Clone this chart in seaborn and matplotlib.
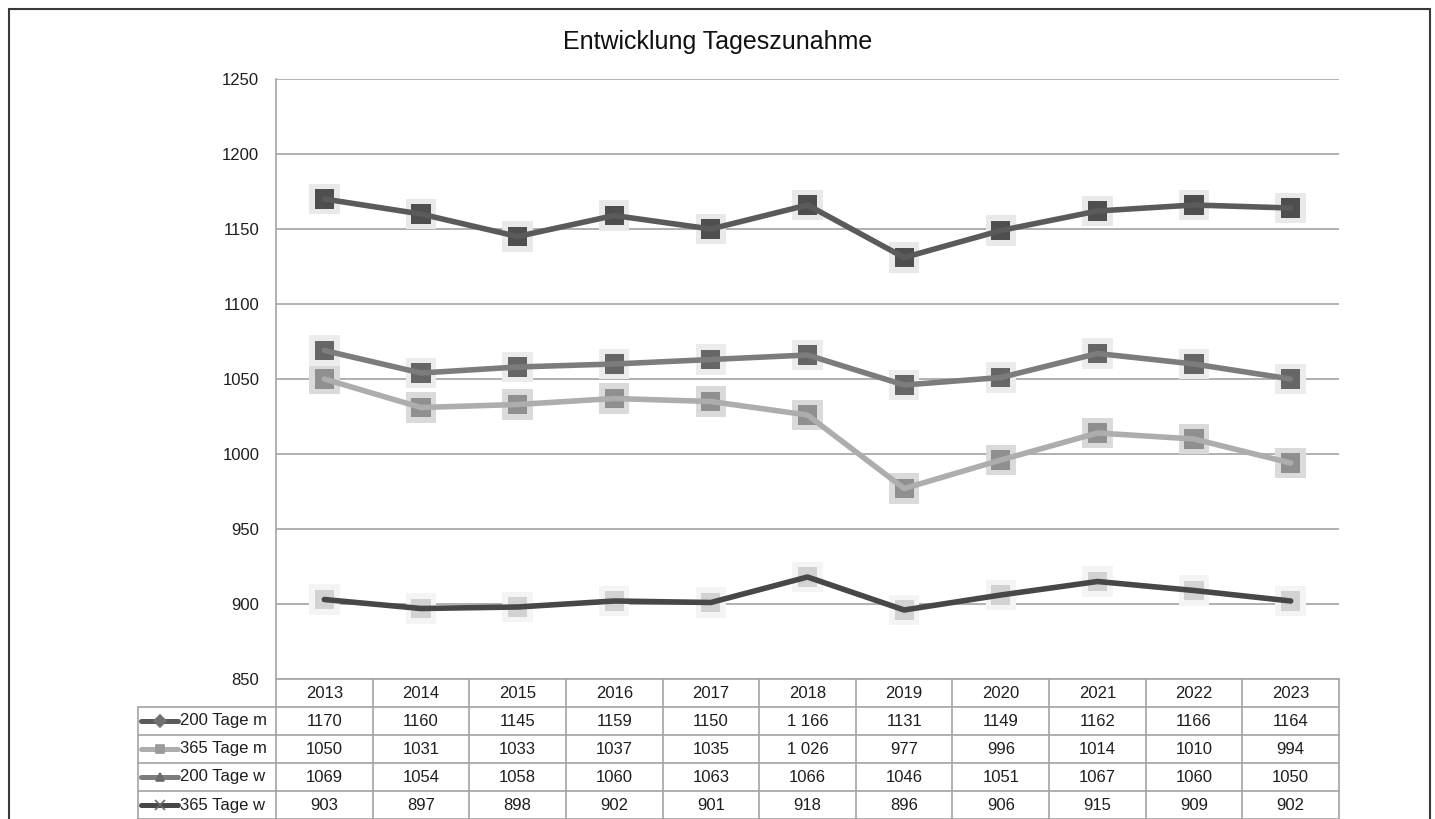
import numpy as np
import pandas as pd
import matplotlib
matplotlib.use("Agg")
import matplotlib.pyplot as plt
import matplotlib.transforms as mtransforms
from matplotlib.patches import Rectangle
from matplotlib.lines import Line2D
import seaborn as sns

# ---------------- data ----------------
years = ["2013", "2014", "2015", "2016", "2017", "2018", "2019", "2020", "2021", "2022", "2023"]
series_names = ["200 Tage m", "365 Tage m", "200 Tage w", "365 Tage w"]
tage200_m = [1170, 1160, 1145, 1159, 1150, 1166, 1131, 1149, 1162, 1166, 1164]
tage365_m = [1050, 1031, 1033, 1037, 1035, 1026, 977, 996, 1014, 1010, 994]
tage200_w = [1069, 1054, 1058, 1060, 1063, 1066, 1046, 1051, 1067, 1060, 1050]
tage365_w = [903, 897, 898, 902, 901, 918, 896, 906, 915, 909, 902]
y_ticks = [850, 900, 950, 1000, 1050, 1100, 1150, 1200, 1250]
# table cells shown with a thousands separator in the original
grouped_cells = [("200 Tage m", "2018"), ("365 Tage m", "2018")]

series_values = [tage200_m, tage365_m, tage200_w, tage365_w]

# ---------------- style ----------------
sns.set_style("white")
plt.rcParams["font.family"] = ["Liberation Sans", "DejaVu Sans"]

line_colors = ["#5a5a5a", "#adadad", "#7c7c7c", "#474747"]
marker_colors = ["#4e4e4e", "#8f8f8f", "#666666", "#d2d2d2"]
halo_colors = ["#e9e9e9", "#dadada", "#ececec", "#f4f4f4"]
legend_markers = ["D", "s", "^", "x"]
legend_mcolors = ["#707070", "#9a9a9a", "#6a6a6a", "#9a9a9a"]
grid_col = "#a3a3a3"
text_col = "#1e1e1e"
FS = 12

W, H = 1435, 819
fig = plt.figure(figsize=(W / 100, H / 100), dpi=100)
ax = fig.add_axes([276 / W, 1 - 679 / H, (1339 - 276) / W, (679 - 79) / H])

rows = []
for name, vals in zip(series_names, series_values):
    for i, (yr, v) in enumerate(zip(years, vals)):
        rows.append({"series": name, "pos": i, "year": yr, "value": v})
df = pd.DataFrame(rows)

for k, name in enumerate(series_names):
    sub = df[df["series"] == name]
    sns.scatterplot(data=sub, x="pos", y="value", marker="s", s=480,
                    color=halo_colors[k], edgecolor="none", linewidth=0,
                    ax=ax, zorder=3 + k * 0.1, legend=False)
    sns.scatterplot(data=sub, x="pos", y="value", marker="s", s=190,
                    color=marker_colors[k], edgecolor="none", linewidth=0,
                    ax=ax, zorder=4 + k * 0.1, legend=False)
    sns.lineplot(data=sub, x="pos", y="value", color=line_colors[k],
                 linewidth=4.0, ax=ax, zorder=5 + k * 0.1, legend=False,
                 solid_capstyle="round", solid_joinstyle="round")

ax.set_xlim(-0.5, len(years) - 0.5)
ax.set_ylim(y_ticks[0], y_ticks[-1])
ax.set_yticks(y_ticks)
ax.set_yticklabels([str(t) for t in y_ticks], fontsize=FS, color=text_col)
ax.set_xticks([])
ax.set_xlabel("")
ax.set_ylabel("")
ax.tick_params(axis="y", length=0, pad=12)
ax.yaxis.grid(True, color=grid_col, linewidth=1.2)
ax.set_axisbelow(True)
for sp in ["top", "right"]:
    ax.spines[sp].set_visible(False)
for sp in ["left", "bottom"]:
    ax.spines[sp].set_color(grid_col)
    ax.spines[sp].set_linewidth(1.2)

fig.text(0.5, 1 - 42 / H, "Entwicklung Tageszunahme", ha="center", va="center",
         fontsize=18, color="#111111")

# ---------------- data table ----------------
trans = mtransforms.blended_transform_factory(ax.transData, ax.transAxes)
axh_px = 679 - 79
rh = 28 / axh_px
n = len(years)
n_rows = len(series_names) + 1
lab_left = -138 / (1339 - 276)
tbl_kw = dict(color=grid_col, linewidth=1.2, clip_on=False, zorder=1)

for j in range(n + 1):
    ax.plot([j - 0.5, j - 0.5], [0, -n_rows * rh], transform=trans, **tbl_kw)
ax.plot([lab_left, lab_left], [-rh, -n_rows * rh], transform=ax.transAxes, **tbl_kw)
for r in range(1, n_rows + 1):
    ax.plot([lab_left, 1], [-r * rh, -r * rh], transform=ax.transAxes, **tbl_kw)

for j, yr in enumerate(years):
    ax.text(j, -0.5 * rh, yr, transform=trans, ha="center", va="center",
            fontsize=FS, color=text_col)


def fmt(v, name, yr):
    if (name, yr) in grouped_cells and v >= 1000:
        return f"{v:,}".replace(",", " ")
    return str(v)


for k, (name, vals) in enumerate(zip(series_names, series_values)):
    yc = -(k + 1.5) * rh
    for j, (yr, v) in enumerate(zip(years, vals)):
        ax.text(j, yc, fmt(v, name, yr), transform=trans, ha="center", va="center",
                fontsize=FS, color=text_col)
    x0, x1 = (141 - 276) / 1063, (178 - 276) / 1063
    ax.add_line(Line2D([x0, x1], [yc, yc], transform=ax.transAxes,
                       color=line_colors[k], linewidth=3.6,
                       solid_capstyle="round", clip_on=False, zorder=2))
    ax.add_line(Line2D([(x0 + x1) / 2], [yc], transform=ax.transAxes,
                       marker=legend_markers[k], markersize=6 if k != 3 else 7,
                       markerfacecolor=legend_mcolors[k],
                       markeredgecolor=legend_mcolors[k] if k != 3 else "#666666",
                       markeredgewidth=1.2, linestyle="none",
                       clip_on=False, zorder=3))
    ax.text((180 - 276) / 1063, yc, name, transform=ax.transAxes, ha="left",
            va="center", fontsize=FS, color=text_col)

fig.patches.append(Rectangle((9 / W, -0.1), (1430 - 9) / W, 1 - 9 / H + 0.1,
                             transform=fig.transFigure, fill=False,
                             edgecolor="#3a3a3a", linewidth=1.5))

fig.savefig("out.png", dpi=100)
